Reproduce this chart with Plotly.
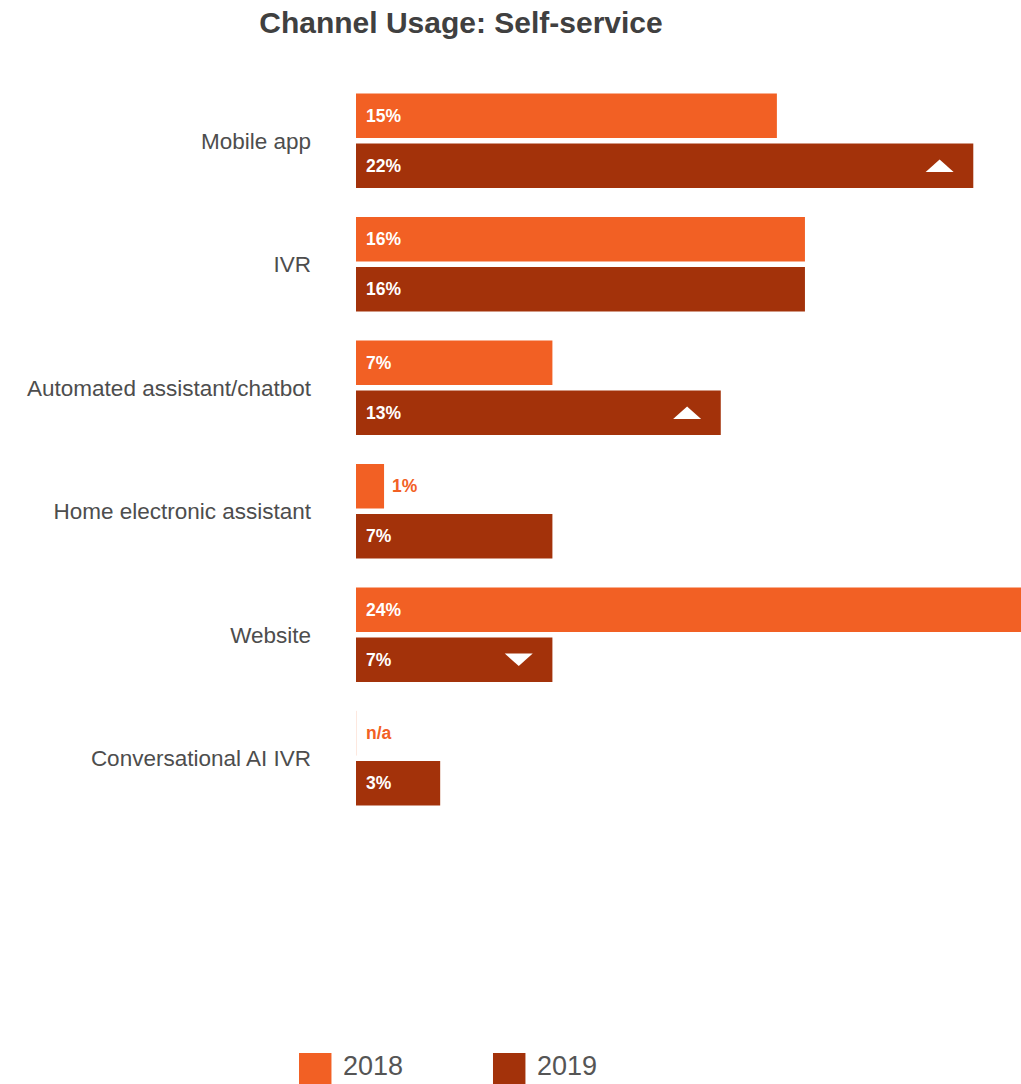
import plotly.graph_objects as go

# Self-service channel usage, share of respondents (%)
channels = [
    "Mobile app",
    "IVR",
    "Automated assistant/chatbot",
    "Home electronic assistant",
    "Website",
    "Conversational AI IVR",
]
usage_2018 = [15, 16, 7, 1, 24, None]   # None = not asked in 2018
usage_2019 = [22, 16, 13, 7, 7, 3]
# year-over-year change flag shown inside the 2019 bar: +1 up, -1 down, 0 none
trend_2019 = [1, 0, 1, 0, -1, 0]

years = ["2018", "2019"]
colors = {"2018": "#f26024", "2019": "#a3320a"}

FONT = "Liberation Sans, Arial, Helvetica, sans-serif"
BAR_W = 0.362      # bar thickness in category units
GAP = 0.0215       # half gap between the paired bars

pos = list(range(len(channels)))

fig = go.Figure()
fig.add_trace(go.Bar(
    name="2018", orientation="h", y=pos,
    x=[v if v is not None else 0 for v in usage_2018],
    width=BAR_W, offset=-(BAR_W + GAP),
    marker=dict(color=colors["2018"], line=dict(width=0)),
    hoverinfo="skip",
))
fig.add_trace(go.Bar(
    name="2019", orientation="h", y=pos, x=usage_2019,
    width=BAR_W, offset=GAP,
    marker=dict(color=colors["2019"], line=dict(width=0)),
    hoverinfo="skip",
))

annotations = []
shapes = []
c18 = -(GAP + BAR_W / 2)
c19 = GAP + BAR_W / 2
LBL = 17.5

for i, (v18, v19, tr) in enumerate(zip(usage_2018, usage_2019, trend_2019)):
    # 2018 labels
    if v18 is None:
        shapes.append(dict(type="line", xref="x", yref="y",
                           x0=0, x1=0, y0=i - GAP - BAR_W, y1=i - GAP,
                           line=dict(color="#fbd2bf", width=1)))
        annotations.append(dict(x=0, y=i + c18, text="<b>n/a</b>", xanchor="left",
                                xshift=8, showarrow=False,
                                font=dict(family=FONT, size=LBL, color=colors["2018"])))
    elif v18 < 3:
        annotations.append(dict(x=v18, y=i + c18, text=f"<b>{v18}%</b>", xanchor="left",
                                xshift=6, showarrow=False,
                                font=dict(family=FONT, size=LBL, color=colors["2018"])))
    else:
        annotations.append(dict(x=0, y=i + c18, text=f"<b>{v18}%</b>", xanchor="left",
                                xshift=8, showarrow=False,
                                font=dict(family=FONT, size=LBL, color="white")))
    # 2019 labels
    annotations.append(dict(x=0, y=i + c19, text=f"<b>{v19}%</b>", xanchor="left",
                            xshift=8, showarrow=False,
                            font=dict(family=FONT, size=LBL, color="white")))
    # change markers
    if tr != 0:
        h = 6.3 * tr
        shapes.append(dict(type="path", xref="x", yref="y",
                           xsizemode="pixel", ysizemode="pixel",
                           xanchor=v19 - 1.2, yanchor=i + c19,
                           path=f"M -14 {-h} L 14 {-h} L 0 {h} Z",
                           fillcolor="white", line=dict(width=0)))

# legend drawn as large swatches below the plot
legend_items = [("2018", -0.0857), ("2019", 0.206)]
for yr, x0 in legend_items:
    shapes.append(dict(type="rect", xref="paper", yref="paper",
                       x0=x0, x1=x0 + 0.0488, y0=-0.3595, y1=-0.3144,
                       fillcolor=colors[yr], line=dict(width=0)))
    annotations.append(dict(xref="paper", yref="paper", x=x0 + 0.0488, y=-0.332,
                            xshift=10, xanchor="left", yanchor="middle",
                            text=yr, showarrow=False,
                            font=dict(family=FONT, size=27, color="#555555")))

fig.update_layout(
    width=1021, height=1084,
    margin=dict(l=356, r=0, t=79, b=264),
    paper_bgcolor="white", plot_bgcolor="white",
    showlegend=False,
    barmode="overlay",
    title=dict(text="<b>Channel Usage: Self-service</b>",
               x=461 / 1021, xanchor="center", xref="container",
               y=1 - 22 / 1084, yanchor="middle", yref="container",
               font=dict(family=FONT, size=30, color="#404040")),
    xaxis=dict(range=[0, 23.7], visible=False, fixedrange=True),
    yaxis=dict(range=[5.5, -0.5], tickmode="array", tickvals=pos, ticktext=channels,
               showgrid=False, zeroline=False, showline=False, ticks="",
               ticklabelstandoff=44,
               tickfont=dict(family=FONT, size=22.5, color="#4d4d4d")),
    annotations=annotations,
    shapes=shapes,
)

fig.write_html("out.html")
